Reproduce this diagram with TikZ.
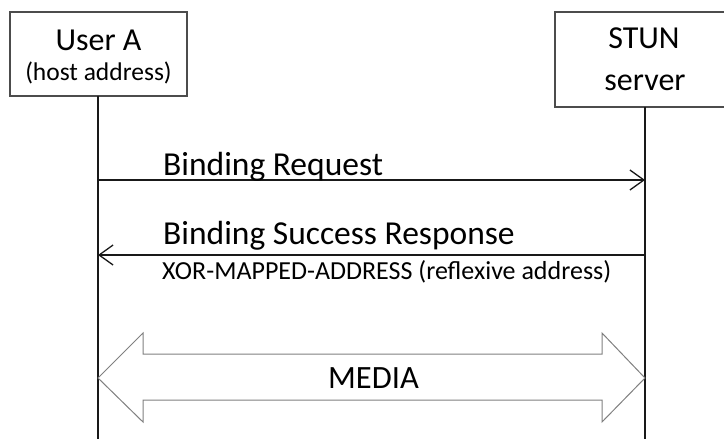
\documentclass[tikz,border=0pt]{standalone}
\usepackage{fontspec}
\setmainfont{Carlito}
\usetikzlibrary{arrows.meta}
\tikzset{
  actor/.style={draw=black!70, line width=1.2pt, fill=white, align=center, inner sep=0pt},
  lifeline/.style={line width=1.8pt, black!90},
  msg/.style={line width=1.3pt, black!90, -{Straight Barb[length=14pt,width=20pt,line width=1.3pt]}},
  msglabel/.style={font=\fontsize{33.5}{36}\selectfont, anchor=base west, inner sep=0pt},
  small/.style={font=\fontsize{26}{28}\selectfont, anchor=base west, inner sep=0pt},
  media/.style={draw=black!50, line width=1pt, fill=white},
}
\begin{document}
\begin{tikzpicture}[x=1pt,y=-1pt]
\useasboundingbox (0,0) rectangle (724,439);
\clip (0,0) rectangle (724,439);
% actor boxes
\draw[actor] (10,12) rectangle (187,96);
\draw[actor] (555,12) rectangle (740,107);
\node[font=\fontsize{32}{36}\selectfont, anchor=base, inner sep=0pt] (ua) at (98.5,50) {User A};
\node[font=\fontsize{25.5}{28}\selectfont, anchor=base, inner sep=0pt] (uah) at (98.5,80) {(host address)};
\node[font=\fontsize{32}{36}\selectfont, anchor=base, inner sep=0pt] (st) at (644,48) {STUN};
\node[font=\fontsize{32}{36}\selectfont, anchor=base, inner sep=0pt] (sv) at (645,90) {server};
% lifelines
\coordinate (la) at (98,96);
\coordinate (lb) at (645,107);
\coordinate (laE) at (98,439);
\coordinate (lbE) at (645,439);
\draw[lifeline] (la) -- (laE);
\draw[lifeline] (lb) -- (lbE);
% messages
\coordinate (r1) at (98,180);
\coordinate (r2) at (645,180);
\draw[msg] (r1) -- (r2);
\node[msglabel] (req) at (163,175) {Binding Request};
\coordinate (s1) at (645,255);
\coordinate (s2) at (98,255);
\draw[msg] (s1) -- (s2);
\node[msglabel] (resp) at (163,244) {Binding Success Response};
\node[small] (xor) at (162,279) {XOR-MAPPED-ADDRESS (reflexive address)};
% media arrow
\draw[media] (98,378) -- (143,333) -- (143,354) -- (602,354) -- (602,333) -- (645,378)
  -- (602,422) -- (602,400) -- (143,400) -- (143,422) -- cycle;
\node[font=\fontsize{32.5}{36}\selectfont, inner sep=0pt] (med) at (373.5,378) {MEDIA};
\end{tikzpicture}
\end{document}
